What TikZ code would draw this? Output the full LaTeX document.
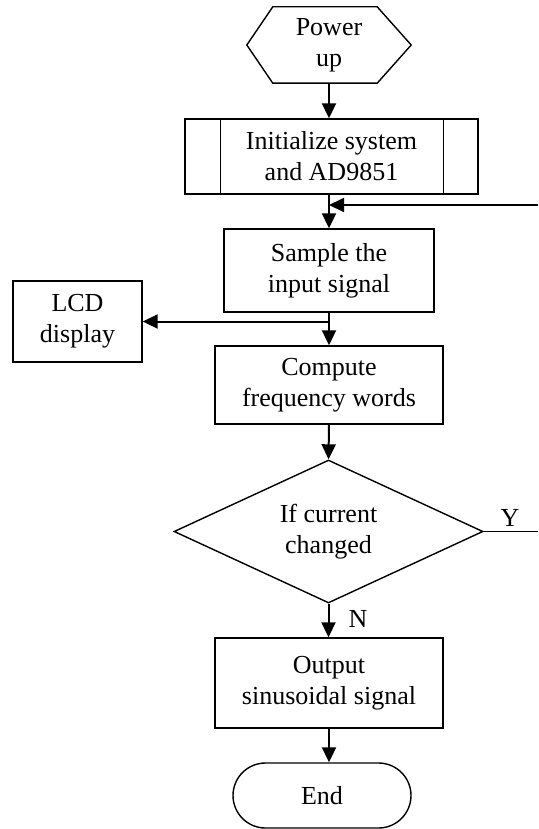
\documentclass[tikz,border=0pt]{standalone}
\usepackage{fontspec}
\setmainfont{Liberation Serif}
\usetikzlibrary{arrows.meta,calc,shapes.geometric,shapes.misc}

\tikzset{
  txt/.style={font=\fontsize{26}{31}\selectfont, align=center, inner sep=0pt},
  boxnode/.style={txt, draw, line width=1.4pt, rectangle},
  decnode/.style={txt, draw, line width=1.4pt, diamond, aspect=2.16},
  termnode/.style={txt, draw, line width=1.4pt, rounded rectangle},
  outline/.style={line width=1.4pt, line join=miter},
  flow/.style={line width=2pt, -{Triangle[length=15pt,width=14pt]}},
  plainflow/.style={line width=1.4pt},
  lbl/.style={font=\fontsize{26}{31}\selectfont, inner sep=0pt}
}

\begin{document}
\begin{tikzpicture}[x=1pt,y=-1pt]
  \useasboundingbox (0,0) rectangle (538,829);

  % start: hexagonal terminator
  \node[txt, minimum width=164pt, minimum height=76pt] (power) at (329,45) {Power\\up};
  \draw[outline] (power.west) -- ($(power.north west)+(26,0)$) -- ($(power.north east)+(-34,0)$)
        -- (power.east) -- ($(power.south east)+(-34,0)$) -- ($(power.south west)+(26,0)$) -- cycle;

  % predefined process with side bars
  \node[boxnode, minimum width=293pt, minimum height=75pt] (init) at (331.5,156.5) {Initialize system\\and AD9851};
  \draw[outline] ($(init.north west)+(36,0)$) -- ($(init.south west)+(36,0)$);
  \draw[outline] ($(init.north east)+(-35,0)$) -- ($(init.south east)+(-35,0)$);

  \node[boxnode, minimum width=210pt, minimum height=83pt] (sample) at (329,270.5) {Sample the\\input signal};
  \node[boxnode, minimum width=129pt, minimum height=81pt] (lcd) at (77.5,321.5) {LCD\\display};
  \node[boxnode, minimum width=228pt, minimum height=78pt] (compute) at (329,385) {Compute\\frequency words};
  \node[decnode, minimum width=309pt, minimum height=143pt] (dec) at (328.5,531.5) {If current\\changed};
  \node[boxnode, minimum width=228pt, minimum height=90pt] (output) at (329,683) {Output\\sinusoidal signal};
  \node[termnode, minimum width=178pt, minimum height=65pt] (end) at (322,795.5) {End};

  % loop-back ends at the right margin
  \coordinate (fbin) at (538,205);
  \coordinate (yout) at (538,531.5);

  % connectors
  \draw[flow] (power.south) -- (power.south |- init.north);
  \draw[flow] (sample.north |- init.south) -- (sample.north);
  \draw[flow] (fbin) -- (sample.north |- fbin);
  \draw[flow] (sample.south) -- (compute.north);
  \draw[flow] (sample.south |- lcd.east) -- (lcd.east);
  \draw[flow] (compute.south) -- (dec.north);
  \draw[plainflow] (dec.east) -- (yout);
  \draw[flow] (dec.south) -- (dec.south |- output.north);
  \draw[flow] (output.south) -- (output.south |- end.north);

  % branch labels
  \node[lbl] (ylbl) at (510,518) {Y};
  \node[lbl] (nlbl) at (358,619) {N};
\end{tikzpicture}
\end{document}
